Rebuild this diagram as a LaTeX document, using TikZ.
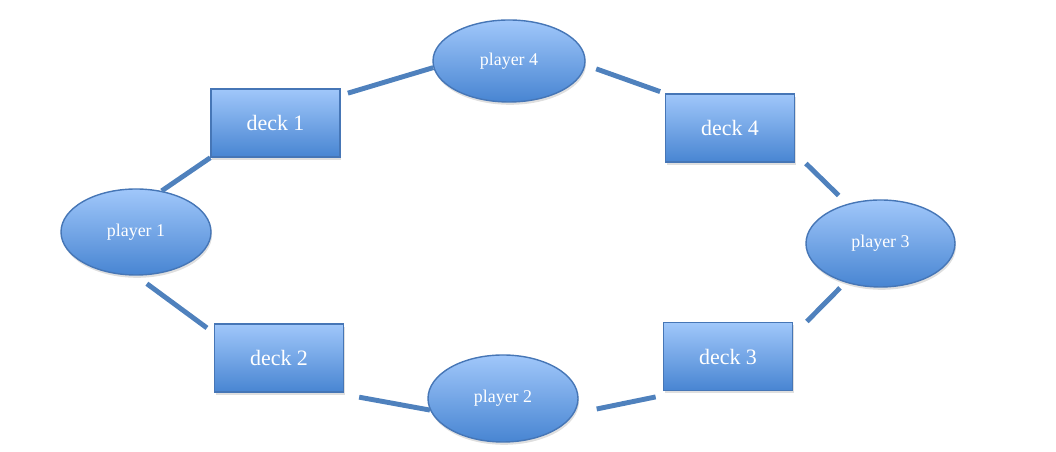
\documentclass[tikz,border=0pt]{standalone}
\usepackage{fontspec}
\setmainfont{Liberation Serif}
\usetikzlibrary{shapes.geometric,shadows}
\definecolor{boxtop}{RGB}{160,199,250}
\definecolor{boxbot}{RGB}{72,133,210}
\definecolor{boxedge}{RGB}{70,118,182}
\definecolor{linkblue}{RGB}{79,129,189}
\begin{document}
\begin{tikzpicture}[
  player/.style={ellipse,draw=boxedge,line width=0.8pt,top color=boxtop,bottom color=boxbot,shading=axis,minimum width=3cm,minimum height=1.72cm,inner sep=0pt,text=white,font=\fontsize{10.2}{12}\selectfont,drop shadow={shadow xshift=0.6pt,shadow yshift=-1.6pt,opacity=0.25}},
  deck/.style={rectangle,draw=boxedge,line width=0.8pt,top color=boxtop,bottom color=boxbot,shading=axis,minimum width=2.58cm,minimum height=1.36cm,inner sep=0pt,text=white,font=\fontsize{12.5}{15}\selectfont,drop shadow={shadow xshift=0.6pt,shadow yshift=-1.6pt,opacity=0.25}},
  link/.style={linkblue,line width=2.8pt}]
\useasboundingbox (0,0) rectangle (21.12,9.04);
\node[player] (p1) at (2.72,4.40) {player 1};
\node[deck] (d1) at (5.51,6.58) {deck 1};
\node[player,minimum width=3.04cm,minimum height=1.64cm] (p4) at (10.18,7.82) {player 4};
\node[deck] (d4) at (14.60,6.48) {deck 4};
\node[player,minimum width=2.98cm,minimum height=1.74cm] (p3) at (17.61,4.17) {player 3};
\node[deck] (d3) at (14.56,1.91) {deck 3};
\node[player,minimum height=1.74cm] (p2) at (10.06,1.07) {player 2};
\node[deck] (d2) at (5.58,1.88) {deck 2};
\draw[link] (p1.58) -- (d1.south west);
\draw[link,shorten <=0.15cm] (d1.23.5) -- (p4.185);
\draw[link,shorten <=0.23cm,shorten >=0.1cm] (p4.-3) -- (d4.north west);
\draw[link,shorten <=0.3cm,shorten >=0.24cm] (d4.-21) -- (p3.130);
\draw[link,shorten <=0.15cm,shorten >=0.39cm] (p3.228) -- (d3.18);
\draw[link,shorten <=0.57cm,shorten >=0.46cm] (d3.218) -- (p2.-12);
\draw[link,shorten >=0.5cm] (p2.189) -- (d2.-32);
\draw[link,shorten <=0.17cm,shorten >=0.27cm] (d2.159) -- (p1.south);
\end{tikzpicture}
\end{document}
